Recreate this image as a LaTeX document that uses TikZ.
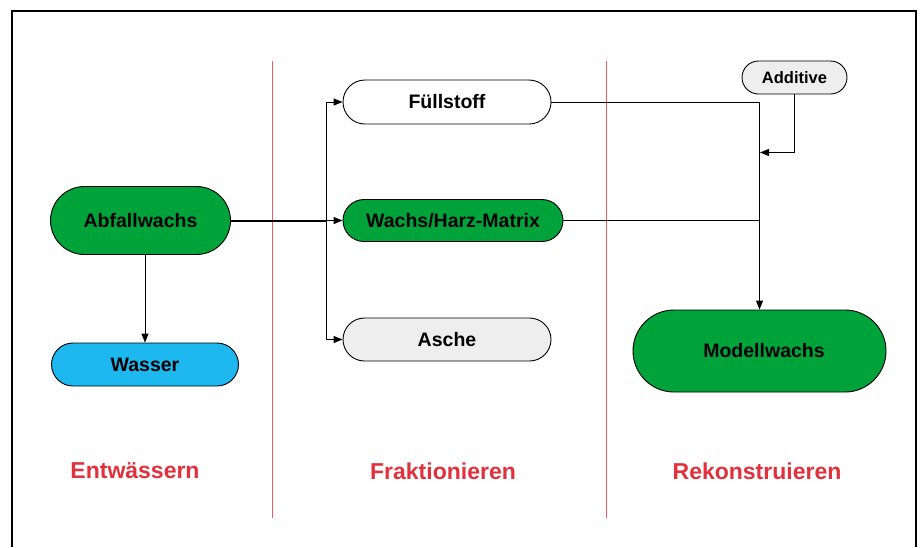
\documentclass[tikz,border=0pt]{standalone}
\usepackage{fontspec}
\setmainfont{Liberation Sans}
\usetikzlibrary{arrows.meta,calc}
\definecolor{wgreen}{RGB}{0,162,58}
\definecolor{wcyan}{RGB}{30,184,240}
\definecolor{wgray}{RGB}{238,238,238}
\definecolor{wred}{RGB}{226,48,60}
\definecolor{wline}{RGB}{240,90,100}
\begin{document}
\begin{tikzpicture}[x=1pt,y=-1pt,
  stadium/.style={draw=black,line width=0.9pt,rounded corners=#1,inner sep=0pt,
    font=\fontsize{19.5}{22}\selectfont\bfseries},
  conn/.style={draw=black,line width=1pt},
  arr/.style={conn,-{Triangle[length=9pt,width=7pt]}},
  phase/.style={text=wred,font=\fontsize{23}{26}\selectfont\bfseries},
  divider/.style={draw=wline,line width=0.8pt}]
\useasboundingbox (0,0) rectangle (920,547);
\fill[white] (0,0) rectangle (920,547);
% frame
\draw[line width=2pt] (12,547) -- (12,11) -- (916,11) -- (916,547);
% dividers
\draw[divider] (272,61) -- (272,518);
\draw[divider] (606,61) -- (606,518);
% nodes
\node[stadium=34pt,fill=wgreen,minimum width=180pt,minimum height=68pt] (abf) at (140.5,220.5) {Abfallwachs};
\node[stadium=21.5pt,fill=wcyan,minimum width=187pt,minimum height=43pt] (wasser) at (145,364.5) {Wasser};
\node[stadium=22pt,fill=white,minimum width=208pt,minimum height=44pt] (fuell) at (447,102) {Füllstoff};
\node[stadium=21pt,fill=wgreen,minimum width=220pt,minimum height=42pt] (wachs) at (453,220.5) {Wachs/Harz-Matrix};
\node[stadium=21.5pt,fill=wgray,minimum width=208pt,minimum height=43pt] (asche) at (447,339.5) {Asche};
\node[stadium=16.5pt,fill=wgray,minimum width=105pt,minimum height=33pt,font=\fontsize{16.5}{18}\selectfont\bfseries] (add) at (794.5,77.5) {Additive};
\node[stadium=41pt,fill=wgreen,minimum width=253pt,minimum height=82pt] (modell) at (759.5,351) {\hspace*{9pt}Modellwachs};
% phase labels
\node[phase] (p1) at (135,471) {Entwässern};
\node[phase] (p2) at (443,471) {Fraktionieren};
\node[phase] (p3) at (757,471) {Rekonstruieren};
% connectors
\coordinate (j) at (326,220.5);
\draw[conn,line width=2pt] (abf.east) -- (j);
\draw[arr] (j) -- (wachs.west);
\draw[arr] (j) |- (fuell.west);
\draw[arr] (j) |- (asche.west);
\draw[arr] (abf.south -| wasser.north) -- (wasser.north);
\draw[arr] (fuell.east) -| (modell.north);
\draw[conn] (wachs.east) -- (wachs.east -| modell.north);
\coordinate (jm) at (760,152.5);
\draw[arr] (add.south) |- (jm);
\end{tikzpicture}
\end{document}
